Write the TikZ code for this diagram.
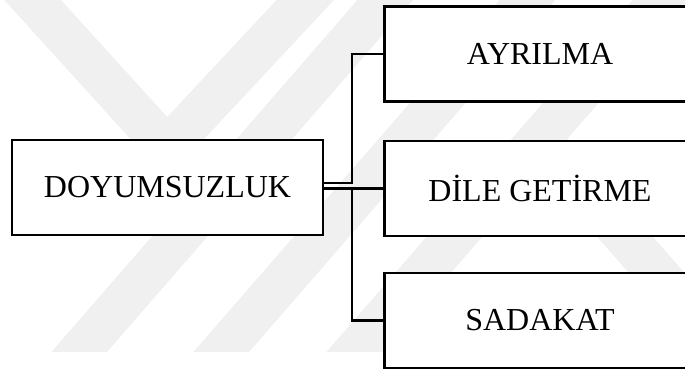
\documentclass[tikz,border=0pt]{standalone}
\usepackage{fontspec}
\setmainfont{Liberation Serif}
\usetikzlibrary{positioning,calc}

\begin{document}
\begin{tikzpicture}[x=0.75pt, y=-0.75pt,
    box/.style={draw, line width=1.8pt, fill=white, minimum width=233.25pt,
        minimum height=71pt, inner sep=0pt, font=\fontsize{24}{28}\selectfont},
    link/.style={line width=1.8pt},
    band/.style={draw=black!6, line width=31.5pt}]
    \useasboundingbox (0,0) rectangle (685,369);
    \clip (0,0) rectangle (685,369);

    % faint chevrons behind everything
    \begin{scope}
        \clip (0,0) rectangle (685,351);
        \draw[band] (-40,-80) -- (167,148) -- (380,-80);
        \foreach \a in {80, 222, 355} {
            \draw[band] (\a-26,381) -- ++(426,-490);
        }
        \draw[band] (540,140) -- (720,345);
    \end{scope}

    % boxes
    \node[box] (doy) at (167.5,187.5) {DOYUMSUZLUK};
    \node[box] (ayr) at (540,54) {AYRILMA};
    \node[box] (dil) at (540,188.5) {DİLE GETİRME};
    \node[box] (sad) at (540,320.5) {SADAKAT};

    % connectors
    \coordinate (fork) at (352,183);
    \draw[link] (doy.east |- fork) -- (fork) |- (ayr.west);
    \draw[link] (doy.east |- dil.west) -- (dil.west);
    \draw[link] (fork |- dil.west) |- (sad.west);
\end{tikzpicture}
\end{document}
